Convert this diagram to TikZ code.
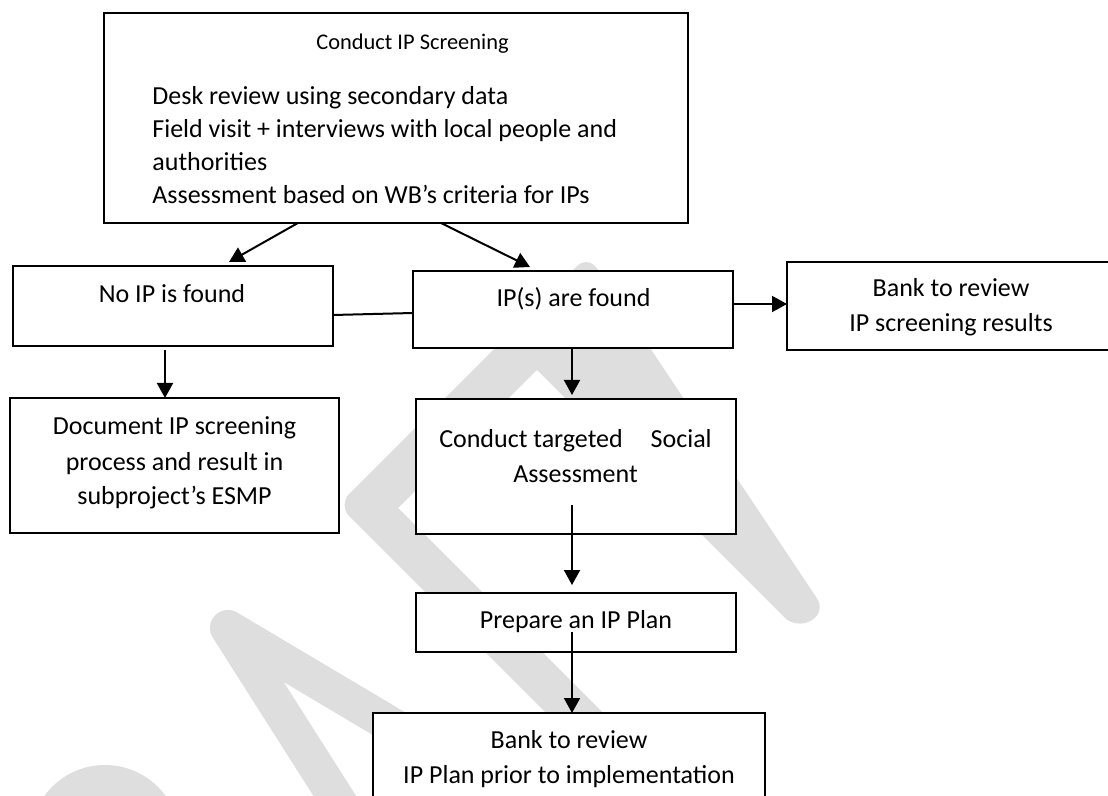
\documentclass[tikz,border=0pt]{standalone}
\usepackage{fontspec}
\setmainfont{Carlito}
\usepackage{tikz}
\usetikzlibrary{arrows.meta,calc,fit}

\begin{document}
\begin{tikzpicture}[
    x=0.5pt, y=-0.5pt,
    box/.style={draw, line width=1.4pt, fill=white, inner sep=0pt, outer sep=0pt},
    txt/.style={inner sep=0pt, font=\fontsize{13}{17.5}\selectfont},
    line/.style={-{Triangle[width=8pt,length=7.5pt]}, line width=1pt},
    wm/.style={fill=black!13},
    wmline/.style={draw=black!13, line width=18pt, line cap=round, line join=round}
]
    \useasboundingbox (0,0) rectangle (1108,796);

    % Watermark
    \fill[wm] (105,840) circle[radius=75];
    \draw[wmline] (345,812) -- (228,628) -- (440,754);
    \fill[wm] (598,765) [rounded corners=8pt] -- (338,505) -- (588,255) -- (826,612) -- (796,629) [sharp corners] -- (537,370) -- (398,508) -- (660,770) -- cycle;

    % Boxes
    \node [box, fit={(104,13) (688,223)}] (screen) {};
    \node [box, fit={(13,266) (333,346)}] (noip) {};
    \node [box, fit={(413,271) (733,348)}] (ipfound) {};
    \node [box, fit={(787,262) (1116,350)}] (bankres) {};
    \node [box, fit={(10,398) (339,533)}] (doc) {};
    \node [box, fit={(416,399) (736,534)}] (sa) {};
    \node [box, fit={(416,593) (736,652)}] (plan) {};
    \node [box, fit={(373,713) (765,830)}] (bankplan) {};

    % Texts
    \node at (412.5,50) [txt, anchor=base, font=\fontsize{11.2}{13}\selectfont] (title) {Conduct IP Screening};
    \node at (152,105) [txt, anchor=base west, font=\fontsize{13}{16.35}\selectfont] (tasks) {\begin{tabular}[t]{@{}l@{}}Desk review using secondary data\\Field visit + interviews with local people and\\authorities\\Assessment based on WB’s criteria for IPs\end{tabular}};
    \node at (172,303) [txt, anchor=base] (noiptxt) {No IP is found};
    \node at (573.5,307) [txt, anchor=base] (ipfoundtxt) {IP(s) are found};
    \node at (951,297) [txt, anchor=base] (bankrestxt) {\begin{tabular}[t]{@{}c@{}}Bank to review\\IP screening results\end{tabular}};
    \node at (174.5,435) [txt, anchor=base] (doctxt) {\begin{tabular}[t]{@{}c@{}}Document IP screening\\process and result in\\subproject’s ESMP\end{tabular}};
    \node at (575.5,447) [txt, anchor=base] (satxt) {\begin{tabular}[t]{@{}c@{}}Conduct targeted\hspace{11pt} Social\\Assessment\end{tabular}};
    \node at (576,628) [txt, anchor=base] (plantxt) {Prepare an IP Plan};
    \node at (569,748) [txt, anchor=base] (bankplantxt) {\begin{tabular}[t]{@{}c@{}}Bank to review\\IP Plan prior to implementation\end{tabular}};

    % Screening outcomes
    \coordinate (s1) at ($(screen.south west)!0.332!(screen.south east)$);
    \coordinate (s2) at ($(screen.south west)!0.577!(screen.south east)$);
    \draw[line] (s1) -- ([xshift=28pt,yshift=2pt]noip.north);
    \draw[line] (s2) -- ([xshift=-21.5pt,yshift=2pt]ipfound.north);
    \draw[line width=1pt] ([yshift=-4.5pt]noip.east) -- ([yshift=-1.75pt]ipfound.west);

    \coordinate (s3) at ([yshift=2.75pt]ipfound.east);
    \draw[line] (s3) -- (s3 -| bankres.west);

    % Down the two branches
    \coordinate (s4) at ([xshift=-4pt,yshift=-2pt]noip.south);
    \draw[line] (s4) -- (s4 |- doc.north);
    \coordinate (s5) at ([xshift=-0.5pt]ipfound.south);
    \draw[line, shorten >=2pt] (s5) -- (s5 |- sa.north);
    \coordinate (s6) at ([xshift=-2pt,yshift=14.5pt]sa.south);
    \draw[line, shorten >=4pt] (s6) -- (s6 |- plan.north);
    \coordinate (s7) at ([xshift=-2pt,yshift=10pt]plan.south);
    \draw[line] (s7) -- (s7 |- bankplan.north);
\end{tikzpicture}
\end{document}
